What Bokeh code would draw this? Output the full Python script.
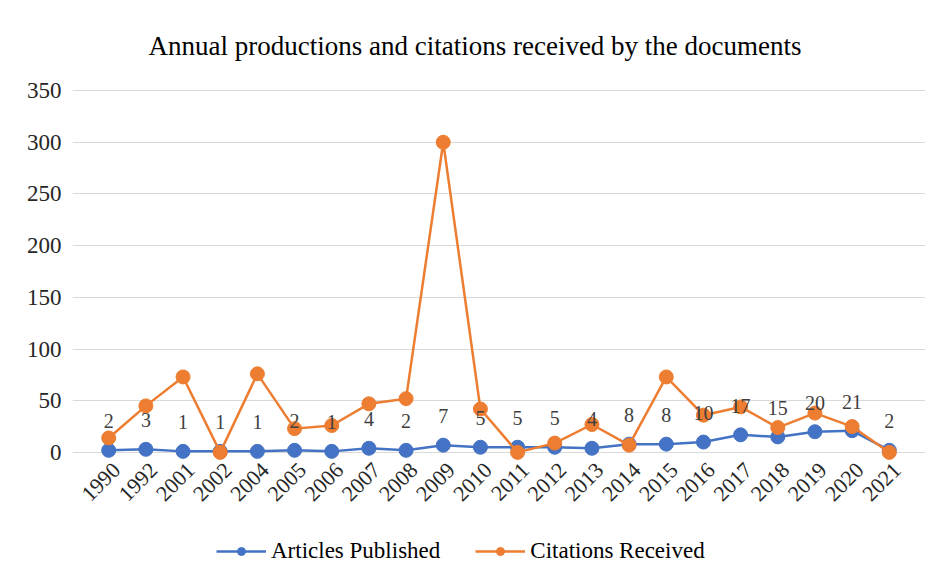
import math
from bokeh.plotting import figure
from bokeh.models import ColumnDataSource, FixedTicker, Legend, LegendItem, Range1d, FactorRange
from bokeh.core.properties import value
from bokeh.embed import file_html
from bokeh.resources import INLINE

years = ["1990", "1992", "2001", "2002", "2004", "2005", "2006", "2007", "2008", "2009", "2010",
         "2011", "2012", "2013", "2014", "2015", "2016", "2017", "2018", "2019", "2020", "2021"]
articles = [2, 3, 1, 1, 1, 2, 1, 4, 2, 7, 5, 5, 5, 4, 8, 8, 10, 17, 15, 20, 21, 2]
citations = [14, 45, 73, 0, 76, 23, 26, 47, 52, 300, 42, 0, 9, 27, 7, 73, 36, 44, 24, 38, 25, 0]
y_ticks = [0, 50, 100, 150, 200, 250, 300, 350]

BLUE = "#4472C4"
ORANGE = "#ED7D31"
FONT = "Liberation Serif"

src = ColumnDataSource(dict(x=years, a=articles, c=citations, lab=[str(v) for v in articles]))
tick_src = ColumnDataSource(dict(x=years, y=[0 for _ in years], t=years))

x_range = FactorRange(factors=years, range_padding=0.474, range_padding_units="absolute")

p = figure(x_range=x_range, y_range=Range1d(-121, 352), frame_width=853, frame_height=489,
           output_backend="svg", toolbar_location=None,
           min_border_left=72, min_border_right=0, min_border_top=87, min_border_bottom=0)

p.title.text = "Annual productions and citations received by the documents"
p.title.align = "left"
p.title.offset = 76
p.title.text_font = FONT
p.title.text_font_size = "27px"
p.title.text_font_style = "normal"
p.title.text_color = "#000000"
p.title.standoff = 56

p.outline_line_color = None
p.xgrid.grid_line_color = None
p.ygrid.grid_line_color = "#d9d9d9"
p.ygrid.grid_line_width = 1

p.xaxis.visible = False
p.yaxis.ticker = FixedTicker(ticks=y_ticks)
p.yaxis.axis_line_color = None
p.yaxis.major_tick_line_color = None
p.yaxis.minor_tick_line_color = None
p.yaxis.major_tick_out = 0
p.yaxis.major_tick_in = 0
p.yaxis.major_label_standoff = 11
p.yaxis.major_label_text_font = FONT
p.yaxis.major_label_text_font_size = "23px"
p.yaxis.major_label_text_color = "#262626"

# category tick labels, rotated 45 degrees, hanging below the zero line
p.text("x", "y", text="t", source=tick_src, text_font=value(FONT), text_font_size="22px",
       text_color="#262626", text_align="right", text_baseline="middle",
       angle=math.pi / 4, x_offset=8, y_offset=14)

l1 = p.line("x", "a", source=src, color=BLUE, line_width=2.5)
s1 = p.scatter("x", "a", source=src, color=BLUE, size=14)
l2 = p.line("x", "c", source=src, color=ORANGE, line_width=2.5)
s2 = p.scatter("x", "c", source=src, color=ORANGE, size=14)

p.text("x", "a", text="lab", source=src, text_font=value(FONT), text_font_size="20px",
       text_color="#404040", text_align="center", text_baseline="middle", y_offset=-29)

legend = Legend(items=[LegendItem(label="Articles Published", renderers=[l1, s1]),
                       LegendItem(label="Citations Received", renderers=[l2, s2])],
                orientation="horizontal", location=(144, 13))
legend.label_text_font = FONT
legend.label_text_font_size = "23px"
legend.label_text_color = "#000000"
legend.glyph_width = 50
legend.spacing = 35
legend.margin = 0
legend.padding = 4
legend.border_line_color = None
legend.background_fill_alpha = 0
p.add_layout(legend)

open("out.html", "w").write(file_html(p, INLINE))
